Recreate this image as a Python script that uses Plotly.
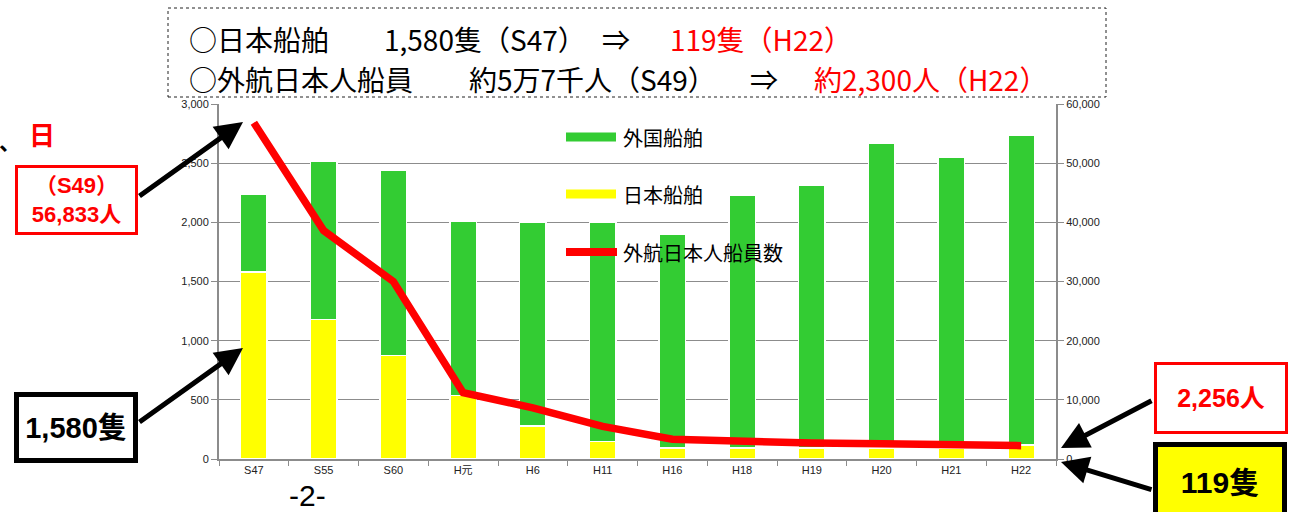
import plotly.graph_objects as go

# ---------------- data ----------------
categories = ["S47", "S55", "S60", "H元", "H6", "H11", "H16", "H18", "H19", "H20", "H21", "H22"]
japan_ships = [1580, 1180, 875, 535, 280, 150, 93, 93, 93, 93, 93, 119]
foreign_ships = [655, 1335, 1565, 1475, 1720, 1850, 1807, 2132, 2222, 2572, 2457, 2621]
crew = [56833, 38600, 30000, 11200, 8650, 5500, 3350, 2950, 2700, 2580, 2400, 2256]

left_ticks = [0, 500, 1000, 1500, 2000, 2500, 3000]
right_ticks = [0, 10000, 20000, 30000, 40000, 50000, 60000]

# ---------------- layout helpers ----------------
W, H = 1292, 512
PL, PR, PT, PB = 219, 1056, 104, 459


def px(x):
    return (x - PL) / (PR - PL)


def py(y):
    return (PB - y) / (PB - PT)


LAT = "Liberation Sans, Arial, Noto Sans CJK JP"
CJK = "Noto Sans CJK JP, Liberation Sans"

fig = go.Figure()
fig.add_trace(go.Bar(x=categories, y=japan_ships, name="日本船舶",
                     marker=dict(color="#ffff00", line=dict(color="white", width=1.5)),
                     width=0.38, showlegend=False))
fig.add_trace(go.Bar(x=categories, y=foreign_ships, name="外国船舶",
                     marker=dict(color="#33cc33", line=dict(color="white", width=1.5)),
                     width=0.38, showlegend=False))
fig.add_trace(go.Scatter(x=categories, y=crew, name="外航日本人船員数", yaxis="y2",
                         mode="lines", line=dict(color="#ff0000", width=7.5),
                         showlegend=False))

shapes = []
annotations = []

# top dashed box
shapes.append(dict(type="rect", xref="paper", yref="paper",
                   x0=px(168), x1=px(1106), y0=py(97), y1=py(8),
                   line=dict(color="#222", width=1, dash="3px,3px"), fillcolor="rgba(0,0,0,0)"))
top_pieces = [
    (187, 38.5, "○日本船舶", "black"),
    (382, 38.5, "1,580隻（S47）", "black"),
    (600, 38.5, "⇒", "black"),
    (668, 38.5, "119隻（H22）", "#ff0000"),
    (187, 79, "○外航日本人船員", "black"),
    (467, 79, "約5万7千人（S49）", "black"),
    (748, 79, "⇒", "black"),
    (812, 79, "約2,300人（H22）", "#ff0000"),
]
for xx, yy, t, c in top_pieces:
    annotations.append(dict(xref="paper", yref="paper", x=px(xx), y=py(yy), xanchor="left", yanchor="middle",
                            showarrow=False, font=dict(family=CJK, size=28, color=c), text=t))

# manual legend
shapes.append(dict(type="line", xref="paper", yref="paper", x0=px(566), x1=px(616), y0=py(137), y1=py(137),
                   line=dict(color="#33cc33", width=9)))
shapes.append(dict(type="line", xref="paper", yref="paper", x0=px(566), x1=px(616), y0=py(194), y1=py(194),
                   line=dict(color="#ffff00", width=9)))
shapes.append(dict(type="line", xref="paper", yref="paper", x0=px(566), x1=px(617), y0=py(252), y1=py(252),
                   line=dict(color="#ff0000", width=8)))
for yy, t in [(137, "外国船舶"), (194, "日本船舶"), (252, "外航日本人船員数")]:
    annotations.append(dict(xref="paper", yref="paper", x=px(621), y=py(yy), xanchor="left", yanchor="middle",
                            showarrow=False, text=t, font=dict(family=CJK, size=20, color="black")))

# callout boxes
annotations.append(dict(xref="paper", yref="paper", x=px(76.5), y=py(200), xanchor="center", yanchor="middle",
                        showarrow=False, text="<b>（S49）</b><br><b>56,833人</b>",
                        font=dict(family=LAT, size=22, color="#ff0000"),
                        width=117, height=64, bordercolor="#ff0000", borderwidth=3, borderpad=0,
                        bgcolor="white"))
annotations.append(dict(xref="paper", yref="paper", x=px(76), y=py(427), xanchor="center", yanchor="middle",
                        showarrow=False, text="<b>1,580隻</b>",
                        font=dict(family=LAT, size=29, color="black"),
                        width=114, height=61, bordercolor="black", borderwidth=5, borderpad=0,
                        bgcolor="white"))
annotations.append(dict(xref="paper", yref="paper", x=px(1221), y=py(398), xanchor="center", yanchor="middle",
                        showarrow=False, text="<b>2,256人</b>",
                        font=dict(family=LAT, size=25, color="#ff0000"),
                        width=128, height=66, bordercolor="#ff0000", borderwidth=3, borderpad=0,
                        bgcolor="white"))
annotations.append(dict(xref="paper", yref="paper", x=px(1220), y=py(482), xanchor="center", yanchor="middle",
                        showarrow=False, text="<b>119隻</b>",
                        font=dict(family=LAT, size=30, color="black"),
                        width=124, height=70, bordercolor="black", borderwidth=5, borderpad=0,
                        bgcolor="#ffff00"))

# arrows (tip, tail)
for (tx, ty), (sx, sy) in [((243, 122), (138, 197)), ((243, 348), (138, 423)),
                           ((1061, 448), (1153, 400)), ((1061, 462), (1153, 490))]:
    annotations.append(dict(xref="paper", yref="paper", x=px(tx), y=py(ty),
                            ax=sx - tx, ay=sy - ty, axref="pixel", ayref="pixel",
                            text="", showarrow=True, arrowhead=2, arrowsize=1.1,
                            arrowwidth=5, arrowcolor="black", standoff=0, startstandoff=0))

# fragments on the left
annotations.append(dict(xref="paper", yref="paper", x=px(10), y=py(140), xanchor="center", yanchor="middle",
                        showarrow=False, text="<b>、</b>", font=dict(family=CJK, size=22, color="black")))
annotations.append(dict(xref="paper", yref="paper", x=px(42), y=py(133), xanchor="center", yanchor="middle",
                        showarrow=False, text="<b>日</b>", font=dict(family=CJK, size=26, color="#ff0000")))
# page number
annotations.append(dict(xref="paper", yref="paper", x=px(307), y=py(495), xanchor="center", yanchor="middle",
                        showarrow=False, text="-2-",
                        font=dict(family="Liberation Sans Narrow, Liberation Sans", size=30, color="black")))

fig.update_layout(
    width=W, height=H,
    margin=dict(l=PL, r=W - PR, t=PT, b=H - PB, pad=0),
    paper_bgcolor="white", plot_bgcolor="white",
    barmode="stack", bargap=0.62,
    font=dict(family=LAT, size=11, color="#222"),
    showlegend=False,
    xaxis=dict(type="category", showline=True, linecolor="#8c8c8c", linewidth=2,
               ticks="outside", tickson="boundaries", ticklen=5, tickcolor="#8c8c8c",
               tickfont=dict(family=LAT, size=11, color="#222"), showgrid=False),
    yaxis=dict(range=[0, 3000], tickvals=left_ticks, tickformat=",", showline=True,
               linecolor="#8c8c8c", linewidth=2, ticks="outside", ticklen=6, tickcolor="#8c8c8c",
               gridcolor="#8c8c8c", gridwidth=1.2, zeroline=False,
               tickfont=dict(family=LAT, size=11, color="#222")),
    yaxis2=dict(range=[0, 60000], tickvals=right_ticks, tickformat=",", overlaying="y", side="right",
                showline=True, linecolor="#8c8c8c", linewidth=2, ticks="outside", ticklen=6,
                tickcolor="#8c8c8c", showgrid=False, zeroline=False,
                tickfont=dict(family=LAT, size=11, color="#222")),
    shapes=shapes, annotations=annotations,
)

fig.write_html("out.html", config={"displayModeBar": False},
               post_script="document.body.style.margin='0px';document.body.style.overflow='hidden';")
